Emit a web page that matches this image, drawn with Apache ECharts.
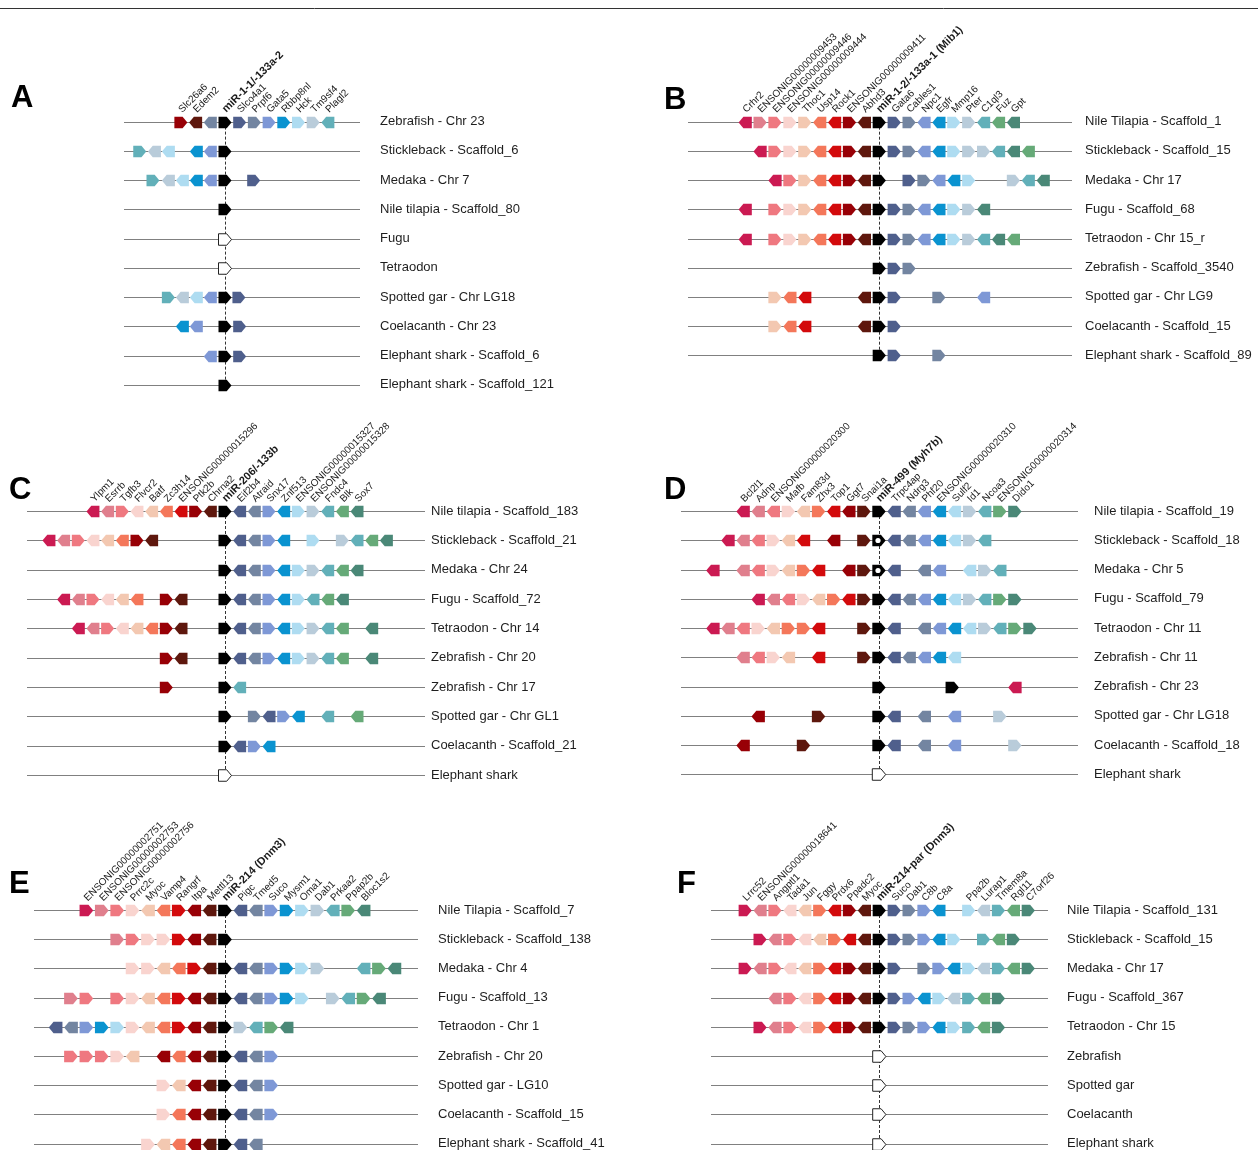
<!DOCTYPE html>
<html><head><meta charset="utf-8">
<script src="https://cdn.jsdelivr.net/npm/echarts@6/dist/echarts.min.js"></script>
<style>html,body{margin:0;padding:0;background:#fff}#main{width:1258px;height:1150px}</style>
</head><body><div id="main"></div>
<script>
// colour index per gene (9 = miRNA host, 19 = absent miRNA, 20 = miRNA with open circle)
const palette = ['#CB1A52','#E07F8D','#EF7880','#F9D4CF','#F3C8B1','#F4775A','#D30A0C','#980006','#5E170D','#000000',
  '#4F5F8C','#7385A1','#7E98D6','#0A93D0','#AEDCF1','#B9CCDA','#62B0B9','#66AA78','#4A8877'];

// ---- Panel A ----
const A_species = ['Zebrafish - Chr 23','Stickleback - Scaffold_6','Medaka - Chr 7','Nile tilapia - Scaffold_80','Fugu','Tetraodon','Spotted gar - Chr LG18','Coelacanth - Chr 23','Elephant shark - Scaffold_6','Elephant shark - Scaffold_121'];
const A_labels = ['Slc26a6','Edem2','','miR-1-1/-133a-2','Slco4a1','Prpf6','Gata5','Rbbp8nl','Hck','Tm9sf4','Plagl2'];
// [order position, colour index, strand]
const A_genes = [
  [[-3,7,1],[-2,8,-1],[-1,11,-1],[0,9,1],[1,10,1],[2,11,1],[3,12,1],[4,13,1],[5,14,1],[6,15,1],[7,16,-1]],
  [[-5.8,16,1],[-4.8,15,-1],[-3.85,14,-1],[-1.95,13,-1],[-1,12,-1],[0,9,1]],
  [[-4.9,16,1],[-3.85,15,-1],[-2.9,14,-1],[-1.95,13,-1],[-1,12,-1],[0,9,1],[1.95,10,1]],
  [[0,9,1]],
  [[0,19,1]],
  [[0,19,1]],
  [[-3.85,16,1],[-2.9,15,-1],[-1.95,14,-1],[-1,12,-1],[0,9,1],[0.95,10,1]],
  [[-2.9,13,-1],[-1.95,12,-1],[0,9,1],[1,10,1]],
  [[-1,12,-1],[0,9,1],[1,10,1]],
  [[0,9,1]]
];

// ---- Panel B ----
const B_species = ['Nile Tilapia - Scaffold_1','Stickleback - Scaffold_15','Medaka - Chr 17','Fugu - Scaffold_68','Tetraodon - Chr 15_r','Zebrafish - Scaffold_3540','Spotted gar - Chr LG9','Coelacanth - Scaffold_15','Elephant shark - Scaffold_89'];
const B_labels = ['Crhr2','ENSONIG00000009453','ENSONIG00000009446','ENSONIG00000009444','Thoc1','Usp14','Rock1','ENSONIG00000009411','Abhd3','miR-1-2/-133a-1 (Mib1)','Gata6','Cables1','Npc1','Egfr','Mmp16','Pter','C1ql3','Fuz','Gpt'];
const B_genes = [
  [[-9,0,-1],[-8,1,1],[-7,2,1],[-6,3,1],[-5,4,1],[-4,5,-1],[-3,6,-1],[-2,7,1],[-1,8,-1],[0,9,1],[1,10,1],[2,11,1],[3,12,-1],[4,13,-1],[5,14,1],[6,15,1],[7,16,-1],[8,17,-1],[9,18,-1]],
  [[-8,0,-1],[-7,2,1],[-6,3,1],[-5,4,1],[-4,5,-1],[-3,6,-1],[-2,7,1],[-1,8,-1],[0,9,1],[1,10,1],[2,11,1],[3,12,-1],[4,13,-1],[5,14,1],[6,15,1],[7,15,1],[8,16,-1],[9,18,-1],[10,17,-1]],
  [[-7,0,-1],[-6,2,1],[-5,4,1],[-4,5,-1],[-3,6,-1],[-2,7,1],[-1,8,-1],[0,9,1],[2,10,1],[3,11,1],[4,12,-1],[5,13,-1],[6,14,1],[9,15,1],[10,16,-1],[11,18,-1]],
  [[-9,0,-1],[-7,2,1],[-6,3,1],[-5,4,1],[-4,5,-1],[-3,6,-1],[-2,7,1],[-1,8,-1],[0,9,1],[1,10,1],[2,11,1],[3,12,-1],[4,13,-1],[5,14,1],[6,15,1],[7,18,-1]],
  [[-9,0,-1],[-7,2,1],[-6,3,1],[-5,4,1],[-4,5,-1],[-3,6,-1],[-2,7,1],[-1,8,-1],[0,9,1],[1,10,1],[2,11,1],[3,12,-1],[4,13,-1],[5,14,1],[6,15,1],[7,16,-1],[8,18,-1],[9,17,-1]],
  [[0,9,1],[1,10,1],[2,11,1]],
  [[-7,4,1],[-6,5,-1],[-5,6,-1],[-1,8,-1],[0,9,1],[1,10,1],[4,11,1],[7,12,-1]],
  [[-7,4,1],[-6,5,-1],[-5,6,-1],[-1,8,-1],[0,9,1],[1,10,1]],
  [[0,9,1],[1,10,1],[4,11,1]]
];

// ---- Panel C ----
const C_species = ['Nile tilapia - Scaffold_183','Stickleback - Scaffold_21','Medaka - Chr 24','Fugu - Scaffold_72','Tetraodon - Chr 14','Zebrafish - Chr 20','Zebrafish - Chr 17','Spotted gar - Chr GL1','Coelacanth - Scaffold_21','Elephant shark'];
const C_labels = ['Ylpm1','Esrrb','Tgfb3','Flvcr2','Batf','Zc3h14','ENSONIG00000015296','Ptk2b','Chrna2','miR-206/-133b','Eif2b4','Atraid','Snx17','Znf513','ENSONIG00000015327','ENSONIG00000015328','Fndc4','Blk','Sox7'];
const C_genes = [
  [[-9,0,-1],[-8,1,-1],[-7,2,1],[-6,3,-1],[-5,4,-1],[-4,5,-1],[-3,6,-1],[-2,7,1],[-1,8,-1],[0,9,1],[1,10,-1],[2,11,-1],[3,12,1],[4,13,-1],[5,14,1],[6,15,1],[7,16,-1],[8,17,-1],[9,18,-1]],
  [[-12,0,-1],[-11,1,-1],[-10,2,1],[-9,3,-1],[-8,4,-1],[-7,5,-1],[-6,7,1],[-5,8,-1],[0,9,1],[1,10,-1],[2,11,-1],[3,12,1],[4,13,-1],[6,14,1],[8,15,1],[9,16,-1],[10,17,-1],[11,18,-1]],
  [[0,9,1],[1,10,-1],[2,11,-1],[3,12,1],[4,13,-1],[5,14,1],[6,15,1],[7,16,-1],[8,17,-1],[9,18,-1]],
  [[-11,0,-1],[-10,1,-1],[-9,2,1],[-8,3,-1],[-7,4,-1],[-6,5,-1],[-4,7,1],[-3,8,-1],[0,9,1],[1,10,-1],[2,11,-1],[3,12,1],[4,13,-1],[5,14,1],[6,16,-1],[7,17,-1],[8,18,-1]],
  [[-10,0,-1],[-9,1,-1],[-8,2,1],[-7,3,-1],[-6,4,-1],[-5,5,-1],[-4,7,1],[-3,8,-1],[0,9,1],[1,10,-1],[2,11,-1],[3,12,1],[4,13,-1],[5,14,1],[6,15,1],[7,16,-1],[8,17,-1],[10,18,-1]],
  [[-4,7,1],[-3,8,-1],[0,9,1],[1,10,-1],[2,11,-1],[3,12,1],[4,13,-1],[5,14,1],[6,15,1],[7,16,-1],[8,17,-1],[10,18,-1]],
  [[-4,7,1],[0,9,1],[1,16,-1]],
  [[0,9,1],[2,11,1],[3,10,-1],[4,12,1],[5,13,-1],[7,16,-1],[9,17,-1]],
  [[0,9,1],[1,10,-1],[2,12,1],[3,13,-1]],
  [[0,19,1]]
];

// ---- Panel D ----
const D_species = ['Nile tilapia - Scaffold_19','Stickleback - Scaffold_18','Medaka - Chr 5','Fugu - Scaffold_79','Tetraodon - Chr 11','Zebrafish - Chr 11','Zebrafish - Chr 23','Spotted gar - Chr LG18','Coelacanth - Scaffold_18','Elephant shark'];
const D_labels = ['Bcl2l1','Adnp','ENSONIG00000020300','Mafb','Fam83d','Zhx3','Top1','Ggt7','Snai1a','miR-499 (Myh7b)','Trpc4ap','Ndrg3','Phf20','ENSONIG00000020310','Sulf2','Id1','Ncoa3','ENSONIG00000020314','Dido1'];
const D_genes = [
  [[-9,0,-1],[-8,1,-1],[-7,2,-1],[-6,3,1],[-5,4,-1],[-4,5,1],[-3,6,-1],[-2,7,-1],[-1,8,1],[0,9,1],[1,10,-1],[2,11,-1],[3,12,-1],[4,13,-1],[5,14,-1],[6,15,1],[7,16,-1],[8,17,1],[9,18,1]],
  [[-10,0,-1],[-9,1,-1],[-8,2,-1],[-7,3,1],[-6,4,-1],[-5,6,-1],[-3,7,-1],[-1,8,1],[0,20,1],[1,10,-1],[2,11,-1],[3,12,-1],[4,13,-1],[5,14,-1],[6,15,1],[7,16,-1]],
  [[-11,0,-1],[-9,1,-1],[-8,2,-1],[-7,3,1],[-6,4,-1],[-5,5,1],[-4,6,-1],[-2,7,-1],[-1,8,1],[0,20,1],[1,10,-1],[3,11,-1],[4,12,-1],[6,14,-1],[7,15,1],[8,16,-1]],
  [[-8,0,-1],[-7,1,-1],[-6,2,-1],[-5,3,1],[-4,4,-1],[-3,5,1],[-2,6,-1],[-1,8,1],[0,9,1],[1,10,-1],[2,11,-1],[3,12,-1],[4,13,-1],[5,14,-1],[6,15,1],[7,16,-1],[8,17,1],[9,18,1]],
  [[-11,0,-1],[-10,1,-1],[-9,2,-1],[-8,3,1],[-7,4,-1],[-6,5,1],[-5,5,1],[-4,6,-1],[-1,8,1],[0,9,1],[1,10,-1],[3,11,-1],[4,12,-1],[5,13,-1],[6,14,-1],[7,15,1],[8,16,-1],[9,17,1],[10,18,1]],
  [[-9,1,-1],[-8,2,-1],[-7,3,1],[-6,4,-1],[-4,6,-1],[-1,8,1],[0,9,1],[1,10,-1],[2,11,-1],[3,12,-1],[4,13,-1],[5,14,-1]],
  [[0,9,1],[4.85,9,1],[9,0,-1]],
  [[-8,7,-1],[-4,8,1],[0,9,1],[1,10,-1],[3,11,-1],[5,12,-1],[8,15,1]],
  [[-9,7,-1],[-5,8,1],[0,9,1],[1,10,-1],[3,11,-1],[5,12,-1],[9,15,1]],
  [[0,19,1]]
];

// ---- Panel E ----
const E_species = ['Nile Tilapia - Scaffold_7','Stickleback - Scaffold_138','Medaka - Chr 4','Fugu - Scaffold_13','Tetraodon - Chr 1','Zebrafish - Chr 20','Spotted gar - LG10','Coelacanth - Scaffold_15','Elephant shark - Scaffold_41'];
const E_labels = ['ENSONIG00000002751','ENSONIG00000002753','ENSONIG00000002756','Prrc2c','Myoc','Vamp4','Rangrf','Itpa','Mettl13','miR-214 (Dnm3)','Pigc','Tmed5','Suco','Mysm1','Oma1','Dab1','Prkaa2','Ppap2b','Bloc1s2'];
const E_genes = [
  [[-9,0,1],[-8,1,1],[-7,2,1],[-6,3,1],[-5,4,-1],[-4,5,-1],[-3,6,1],[-2,7,-1],[-1,8,-1],[0,9,1],[1,10,-1],[2,11,-1],[3,12,1],[4,13,1],[5,14,1],[6,15,1],[7,16,-1],[8,17,1],[9,18,-1]],
  [[-7,1,1],[-6,2,1],[-5,3,1],[-4,3,1],[-3,6,1],[-2,7,-1],[-1,8,-1],[0,9,1]],
  [[-6,3,1],[-5,3,1],[-4,4,-1],[-3,5,-1],[-2,6,1],[-1,8,-1],[0,9,1],[1,10,-1],[2,11,-1],[3,12,1],[4,13,1],[5,14,1],[6,15,1],[9,16,-1],[10,17,1],[11,18,-1]],
  [[-10,1,1],[-9,2,1],[-7,2,1],[-6,3,1],[-5,4,-1],[-4,5,-1],[-3,6,1],[-2,7,-1],[-1,8,-1],[0,9,1],[1,10,-1],[2,11,-1],[3,12,1],[4,13,1],[5,14,1],[7,15,1],[8,16,-1],[9,17,1],[10,18,-1]],
  [[-11,10,-1],[-10,11,-1],[-9,12,1],[-8,13,1],[-7,14,1],[-6,3,1],[-5,4,-1],[-4,5,-1],[-3,6,1],[-2,7,-1],[-1,8,-1],[0,9,1],[1,15,1],[2,16,-1],[3,17,1],[4,18,-1]],
  [[-10,2,1],[-9,2,1],[-8,2,1],[-7,3,1],[-6,4,-1],[-4,7,-1],[-3,5,-1],[-2,7,-1],[-1,8,-1],[0,9,1],[1,10,-1],[2,11,-1],[3,12,1]],
  [[-4,3,1],[-3,4,-1],[-2,7,-1],[-1,8,-1],[0,9,1],[1,10,-1],[2,11,-1],[3,12,1]],
  [[-4,3,1],[-3,5,-1],[-2,7,-1],[-1,8,-1],[0,9,1],[1,10,-1],[2,11,-1],[3,12,1]],
  [[-5,3,1],[-4,4,-1],[-3,5,-1],[-2,7,-1],[-1,8,-1],[0,9,1],[1,10,-1],[2,11,-1]]
];

// ---- Panel F ----
const F_species = ['Nile Tilapia - Scaffold_131','Stickleback - Scaffold_15','Medaka - Chr 17','Fugu - Scaffold_367','Tetraodon - Chr 15','Zebrafish','Spotted gar','Coelacanth','Elephant shark'];
const F_labels = ['Lrrc52','ENSONIG00000018641','Angptl1','Tada1','Jun','Fggy','Prdx6','Ppadc2','Myoc','miR-214-par (Dnm3)','Suco','Dab1','C8b','C8a','Ppa2b','Lurap1','Tmem8a','Rgl11','C7orf26'];
const F_genes = [
  [[-9,0,1],[-8,1,-1],[-7,2,1],[-6,3,-1],[-5,4,-1],[-4,5,1],[-3,6,-1],[-2,7,1],[-1,8,-1],[0,9,1],[1,10,1],[2,11,1],[3,12,1],[4,13,-1],[6,14,1],[7,15,-1],[8,16,1],[9,17,-1],[10,18,1]],
  [[-8,0,1],[-7,1,-1],[-6,2,1],[-5,3,-1],[-4,4,-1],[-3,5,1],[-2,6,-1],[-1,8,-1],[0,9,1],[1,10,1],[2,11,1],[3,12,1],[4,13,-1],[5,14,1],[7,16,1],[8,17,-1],[9,18,1]],
  [[-9,0,1],[-8,1,-1],[-7,2,1],[-6,3,-1],[-5,4,-1],[-4,5,1],[-3,6,-1],[-2,7,1],[-1,8,-1],[0,9,1],[1,10,1],[3,11,1],[4,12,1],[5,13,-1],[6,14,1],[7,15,-1],[8,16,1],[9,17,-1],[10,18,1]],
  [[-7,1,-1],[-6,2,1],[-5,3,-1],[-4,5,1],[-3,6,-1],[-2,7,1],[-1,8,-1],[0,9,1],[1,10,1],[2,12,1],[3,13,-1],[4,14,1],[5,15,-1],[6,16,1],[7,17,-1],[8,18,1]],
  [[-8,0,1],[-7,1,-1],[-6,2,1],[-5,3,-1],[-4,5,1],[-3,6,-1],[-2,7,1],[-1,8,-1],[0,9,1],[1,10,1],[2,11,1],[3,12,1],[4,13,-1],[5,14,1],[6,16,1],[7,17,-1],[8,18,1]],
  [[0,19,1]],
  [[0,19,1]],
  [[0,19,1]],
  [[0,19,1]]
];

const panelLetters = ['A','B','C','D','E','F'];

// ---- layout (pixels) ----
const FONT = '"Liberation Sans", Arial, Helvetica, sans-serif';
const panels = [
  {species:A_species, labels:A_labels, genes:A_genes, x0:124, x1:360, cx:225, sp:14.7, y0:121.6, dy:29.25, lx:380, lt:[11,98]},
  {species:B_species, labels:B_labels, genes:B_genes, x0:688, x1:1072, cx:879.3, sp:14.9, y0:121.7, dy:29.2, lx:1085, lt:[664,100]},
  {species:C_species, labels:C_labels, genes:C_genes, x0:27, x1:425, cx:225, sp:14.67, y0:511, dy:29.33, lx:431, lt:[9,490]},
  {species:D_species, labels:D_labels, genes:D_genes, x0:681, x1:1078, cx:879, sp:15.1, y0:511, dy:29.26, lx:1094, lt:[664,490]},
  {species:E_species, labels:E_labels, genes:E_genes, x0:34, x1:418, cx:225, sp:15.4, y0:910, dy:29.2, lx:438, lt:[9,884]},
  {species:F_species, labels:F_labels, genes:F_genes, x0:711, x1:1048, cx:879.3, sp:14.9, y0:910, dy:29.2, lx:1067, lt:[677,884]}
];

const option = {animation:false, backgroundColor:'#fff', grid:[], xAxis:[], yAxis:[], series:[], graphic:[]};

option.graphic.push({type:'line', shape:{x1:0, y1:8.5, x2:1258, y2:8.5}, style:{stroke:'#333', lineWidth:1}, silent:true});

panels.forEach((p, i) => {
  const n = p.species.length;
  option.grid.push({left:p.x0, top:p.y0, width:p.x1 - p.x0, height:(n - 1)*p.dy, containLabel:false});
  option.xAxis.push({gridIndex:i, type:'value', min:(p.x0 - p.cx)/p.sp, max:(p.x1 - p.cx)/p.sp, show:false});
  option.yAxis.push({gridIndex:i, type:'category', data:p.species, inverse:true, position:'right', boundaryGap:false,
    axisLine:{show:false}, axisTick:{show:false}, splitLine:{show:false},
    axisLabel:{margin:p.lx - p.x1, align:'left', fontSize:13, color:'#1e1e1e', fontFamily:FONT, interval:0}});

  // genomic backbone lines
  option.series.push({type:'custom', xAxisIndex:i, yAxisIndex:i, silent:true, clip:false, z:1,
    data:p.species.map((s, r) => [0, r]),
    renderItem:(params, api) => {
      const y = Math.round(api.coord([0, api.value(1)])[1]) + 0.5;
      const cs = params.coordSys;
      return {type:'line', shape:{x1:cs.x, y1:y, x2:cs.x + cs.width, y2:y}, style:{stroke:'#808080', lineWidth:1}};
    }});

  // dashed miRNA guide line
  option.series.push({type:'custom', xAxisIndex:i, yAxisIndex:i, silent:true, clip:false, z:2,
    data:[[0, 0]],
    renderItem:(params, api) => {
      const a = api.coord([0, 0]), b = api.coord([0, n - 1]);
      const x = Math.round(a[0]) + 0.5;
      return {type:'line', shape:{x1:x, y1:a[1], x2:x, y2:b[1]}, style:{stroke:'#333', lineWidth:1, lineDash:[3,2]}};
    }});

  // genes
  const gdata = [];
  p.genes.forEach((row, r) => row.forEach(g => gdata.push([g[0], r, g[1], g[2]])));
  option.series.push({type:'custom', xAxisIndex:i, yAxisIndex:i, silent:true, clip:false, z:3,
    data:gdata,
    renderItem:(params, api) => {
      const c = api.coord([api.value(0), api.value(1)]);
      const col = api.value(2), dir = api.value(3);
      const w = p.sp - 1.7, h = 11.5, tip = 4.8;
      const x = c[0], y = Math.round(c[1]) + 0.5;
      const l = x - w/2, rr = x + w/2, t = y - h/2, b = y + h/2;
      const pts = dir > 0 ? [[l,t],[rr - tip,t],[rr,y],[rr - tip,b],[l,b]]
                          : [[rr,t],[l + tip,t],[l,y],[l + tip,b],[rr,b]];
      if (col === 19) {
        return {type:'polygon', shape:{points:pts}, style:{fill:'#fff', stroke:'#222', lineWidth:1}};
      }
      if (col === 20) {
        return {type:'group', children:[
          {type:'polygon', shape:{points:pts}, style:{fill:'#000'}},
          {type:'circle', shape:{cx:x - 1, cy:y, r:2.6}, style:{fill:'#fff'}}
        ]};
      }
      return {type:'polygon', shape:{points:pts}, style:{fill:palette[col]}};
    }});

  // gene name labels (aligned with the reference genome row)
  const ldata = [];
  p.labels.forEach((t, k) => { if (t) ldata.push([p.genes[0][k][0], 0, k]); });
  option.series.push({type:'custom', xAxisIndex:i, yAxisIndex:i, silent:true, clip:false, z:4,
    data:ldata,
    renderItem:(params, api) => {
      const k = api.value(2);
      const c = api.coord([api.value(0), 0]);
      const isMir = p.genes[0][k][1] === 9;
      return {type:'text', x:c[0] + 3, y:c[1] - 7, rotation:Math.PI/4,
        style:{text:p.labels[k], x:0, y:0, align:'left', verticalAlign:'bottom', textAlign:'left', textVerticalAlign:'bottom',
          font:(isMir ? 'bold 11px ' : '10px ') + FONT, fill:'#1a1a1a'}};
    }});

  option.graphic.push({type:'text', x:p.lt[0], y:p.lt[1], silent:true,
    style:{text:panelLetters[i], font:'bold 31px ' + FONT, fill:'#000', align:'left', verticalAlign:'middle'}});
});

const chart = echarts.init(document.getElementById('main'));
chart.setOption(option);
</script></body></html>
